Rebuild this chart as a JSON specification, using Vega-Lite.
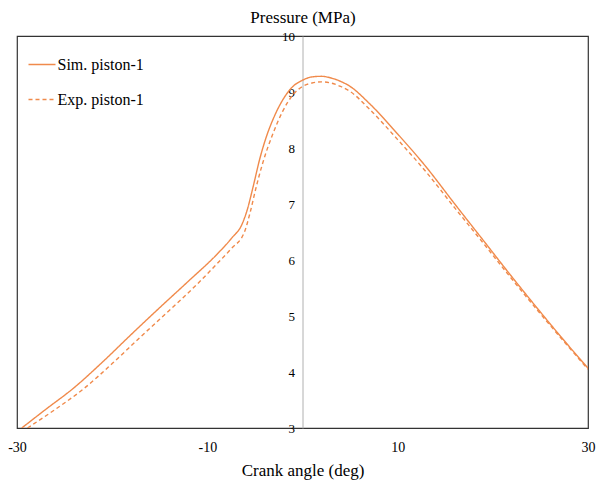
{
  "$schema": "https://vega.github.io/schema/vega-lite/v6.json",
  "width": 571,
  "height": 392,
  "autosize": {"type": "none"},
  "padding": {"left": 17, "top": 36, "right": 8, "bottom": 56},
  "background": "white",
  "config": {
    "view": {"stroke": "#333333", "strokeWidth": 1.2},
    "font": "Liberation Serif"
  },
  "data": {
    "values": [
      {"series": "Sim. piston-1", "angle": -29.5, "pressure": 3.0},
      {"series": "Sim. piston-1", "angle": -27, "pressure": 3.33},
      {"series": "Sim. piston-1", "angle": -24, "pressure": 3.72},
      {"series": "Sim. piston-1", "angle": -21, "pressure": 4.18},
      {"series": "Sim. piston-1", "angle": -18, "pressure": 4.67},
      {"series": "Sim. piston-1", "angle": -15, "pressure": 5.15},
      {"series": "Sim. piston-1", "angle": -12, "pressure": 5.62},
      {"series": "Sim. piston-1", "angle": -9, "pressure": 6.1},
      {"series": "Sim. piston-1", "angle": -7.5, "pressure": 6.38},
      {"series": "Sim. piston-1", "angle": -6.3, "pressure": 6.66},
      {"series": "Sim. piston-1", "angle": -5.8, "pressure": 6.9},
      {"series": "Sim. piston-1", "angle": -5.2, "pressure": 7.3},
      {"series": "Sim. piston-1", "angle": -4.5, "pressure": 7.8},
      {"series": "Sim. piston-1", "angle": -3.8, "pressure": 8.2},
      {"series": "Sim. piston-1", "angle": -3, "pressure": 8.55},
      {"series": "Sim. piston-1", "angle": -2, "pressure": 8.88},
      {"series": "Sim. piston-1", "angle": -1, "pressure": 9.1},
      {"series": "Sim. piston-1", "angle": 0, "pressure": 9.21},
      {"series": "Sim. piston-1", "angle": 1, "pressure": 9.27},
      {"series": "Sim. piston-1", "angle": 2, "pressure": 9.28},
      {"series": "Sim. piston-1", "angle": 3, "pressure": 9.25},
      {"series": "Sim. piston-1", "angle": 4, "pressure": 9.19},
      {"series": "Sim. piston-1", "angle": 5, "pressure": 9.1},
      {"series": "Sim. piston-1", "angle": 7, "pressure": 8.8},
      {"series": "Sim. piston-1", "angle": 10, "pressure": 8.25},
      {"series": "Sim. piston-1", "angle": 13, "pressure": 7.66},
      {"series": "Sim. piston-1", "angle": 16, "pressure": 7.0},
      {"series": "Sim. piston-1", "angle": 19, "pressure": 6.35},
      {"series": "Sim. piston-1", "angle": 22, "pressure": 5.7},
      {"series": "Sim. piston-1", "angle": 25, "pressure": 5.07},
      {"series": "Sim. piston-1", "angle": 28, "pressure": 4.46},
      {"series": "Sim. piston-1", "angle": 30, "pressure": 4.07},
      {"series": "Exp. piston-1", "angle": -28.9, "pressure": 3.0},
      {"series": "Exp. piston-1", "angle": -26, "pressure": 3.33},
      {"series": "Exp. piston-1", "angle": -23, "pressure": 3.7},
      {"series": "Exp. piston-1", "angle": -20, "pressure": 4.15},
      {"series": "Exp. piston-1", "angle": -17, "pressure": 4.63},
      {"series": "Exp. piston-1", "angle": -14, "pressure": 5.1},
      {"series": "Exp. piston-1", "angle": -11, "pressure": 5.58},
      {"series": "Exp. piston-1", "angle": -9, "pressure": 5.93},
      {"series": "Exp. piston-1", "angle": -7.5, "pressure": 6.2},
      {"series": "Exp. piston-1", "angle": -6.1, "pressure": 6.5},
      {"series": "Exp. piston-1", "angle": -5.5, "pressure": 6.85},
      {"series": "Exp. piston-1", "angle": -4.9, "pressure": 7.28},
      {"series": "Exp. piston-1", "angle": -4.2, "pressure": 7.72},
      {"series": "Exp. piston-1", "angle": -3.1, "pressure": 8.26},
      {"series": "Exp. piston-1", "angle": -2.1, "pressure": 8.65},
      {"series": "Exp. piston-1", "angle": -1, "pressure": 8.95},
      {"series": "Exp. piston-1", "angle": 0, "pressure": 9.1},
      {"series": "Exp. piston-1", "angle": 1, "pressure": 9.16},
      {"series": "Exp. piston-1", "angle": 2, "pressure": 9.18},
      {"series": "Exp. piston-1", "angle": 3, "pressure": 9.16},
      {"series": "Exp. piston-1", "angle": 4, "pressure": 9.1},
      {"series": "Exp. piston-1", "angle": 5, "pressure": 9.01},
      {"series": "Exp. piston-1", "angle": 7, "pressure": 8.7},
      {"series": "Exp. piston-1", "angle": 10, "pressure": 8.15},
      {"series": "Exp. piston-1", "angle": 13, "pressure": 7.57},
      {"series": "Exp. piston-1", "angle": 16, "pressure": 6.93},
      {"series": "Exp. piston-1", "angle": 19, "pressure": 6.3},
      {"series": "Exp. piston-1", "angle": 22, "pressure": 5.66},
      {"series": "Exp. piston-1", "angle": 25, "pressure": 5.04},
      {"series": "Exp. piston-1", "angle": 28, "pressure": 4.44},
      {"series": "Exp. piston-1", "angle": 30, "pressure": 4.05}
    ]
  },
  "mark": {"type": "line", "interpolate": "monotone", "strokeWidth": 1.4, "clip": true},
  "encoding": {
    "x": {
      "field": "angle",
      "type": "quantitative",
      "scale": {"domain": [-30, 30], "nice": false, "zero": false},
      "axis": {
        "title": "Crank angle (deg)",
        "values": [-30, -10, 10, 30],
        "labelExpr": "toString(datum.value)",
        "grid": false,
        "ticks": false,
        "domain": false,
        "labelFont": "Liberation Serif",
        "labelFontSize": 14,
        "labelColor": "#000000",
        "labelPadding": 12,
        "labelFlush": false,
        "titleFont": "Liberation Serif",
        "titleFontSize": 17,
        "titleFontWeight": "normal",
        "titleColor": "#000000",
        "titlePadding": 8
      }
    },
    "y": {
      "field": "pressure",
      "type": "quantitative",
      "scale": {"domain": [3, 10], "nice": false, "zero": false},
      "axis": {
        "title": "Pressure (MPa)",
        "values": [3, 4, 5, 6, 7, 8, 9, 10],
        "offset": -285.5,
        "grid": false,
        "ticks": false,
        "domain": true,
        "domainColor": "#b0b0b0",
        "domainWidth": 1,
        "labelFont": "Liberation Serif",
        "labelFontSize": 13,
        "labelColor": "#000000",
        "labelPadding": 8,
        "labelFlush": false,
        "titleFont": "Liberation Serif",
        "titleFontSize": 17,
        "titleFontWeight": "normal",
        "titleColor": "#000000",
        "titleAngle": 0,
        "titleAlign": "center",
        "titleBaseline": "alphabetic",
        "titleX": 0,
        "titleY": -14
      }
    },
    "color": {
      "field": "series",
      "type": "nominal",
      "scale": {"domain": ["Sim. piston-1", "Exp. piston-1"], "range": ["#F08A4B", "#F08A4B"]},
      "legend": {
        "title": null,
        "orient": "none",
        "legendX": 10.5,
        "legendY": 14,
        "direction": "vertical",
        "padding": 0,
        "symbolType": "stroke",
        "symbolSize": 729,
        "symbolStrokeWidth": 1.4,
        "rowPadding": 12,
        "labelOffset": 1,
        "labelFont": "Liberation Serif",
        "labelFontSize": 16,
        "labelColor": "#000000"
      }
    },
    "strokeDash": {
      "field": "series",
      "type": "nominal",
      "scale": {"domain": ["Sim. piston-1", "Exp. piston-1"], "range": [[1, 0], [4, 3]]},
      "legend": {
        "title": null,
        "orient": "none",
        "legendX": 10.5,
        "legendY": 14,
        "direction": "vertical",
        "padding": 0,
        "symbolType": "stroke",
        "symbolSize": 729,
        "symbolStrokeWidth": 1.4,
        "rowPadding": 12,
        "labelOffset": 1,
        "labelFont": "Liberation Serif",
        "labelFontSize": 16,
        "labelColor": "#000000"
      }
    }
  }
}
